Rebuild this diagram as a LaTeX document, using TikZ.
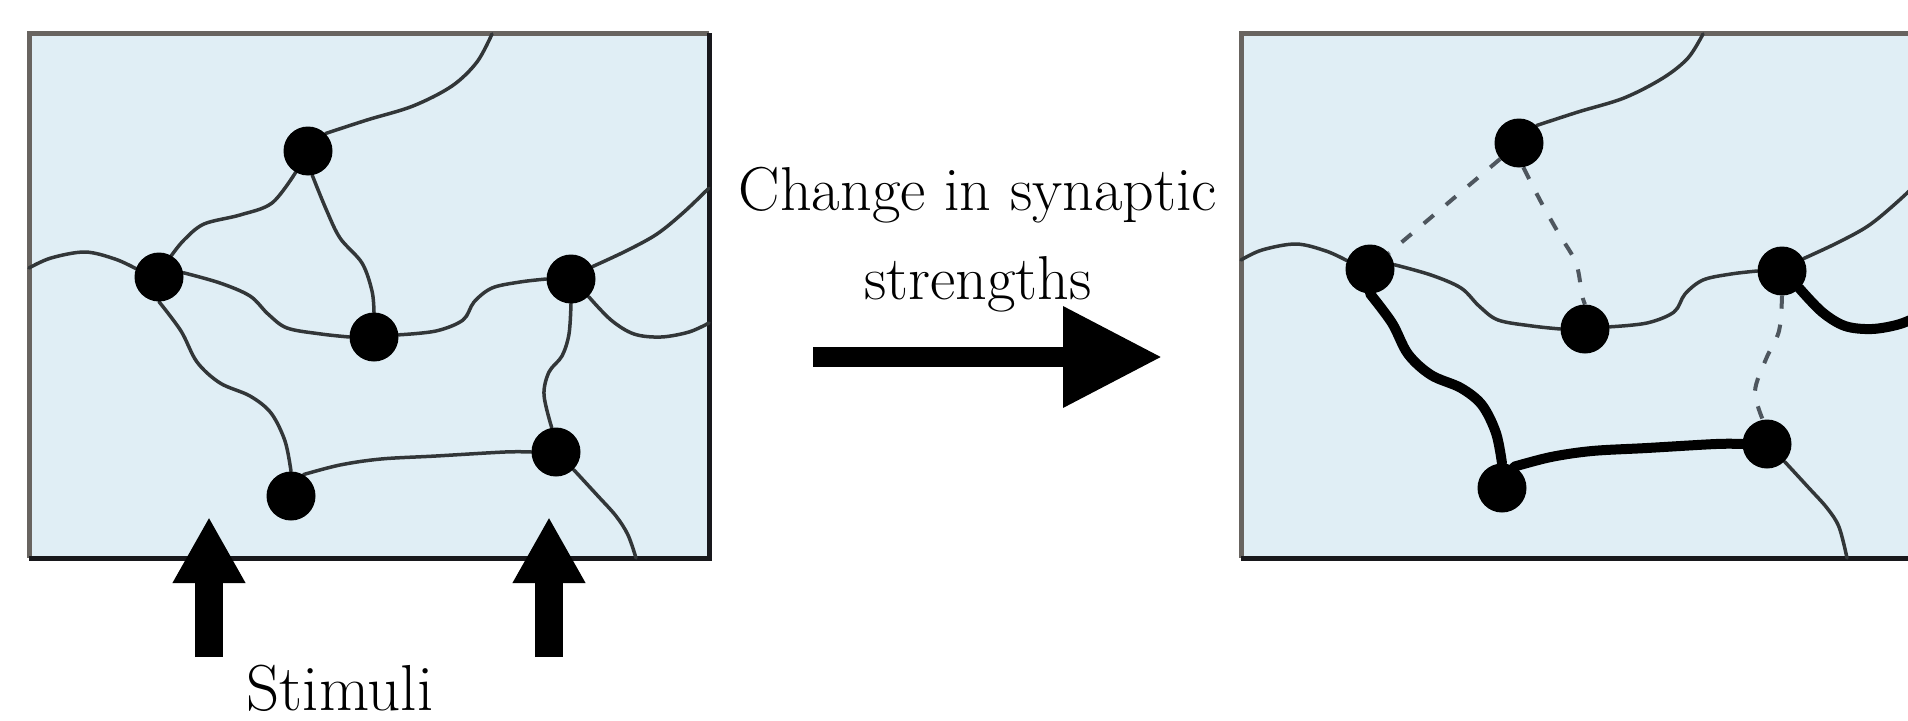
\documentclass[tikz,border=0pt]{standalone}
\usepackage{fontspec}
\usetikzlibrary{arrows.meta}
\pgfdeclarelayer{bg}
\pgfdeclarelayer{wires}
\pgfsetlayers{bg,wires,main}
\definecolor{panelfill}{RGB}{224,238,245}
\definecolor{panelrim}{RGB}{104,100,96}
\definecolor{panelrimdark}{RGB}{24,24,28}
\definecolor{axon}{RGB}{50,54,56}
\definecolor{weakaxon}{RGB}{78,86,94}
\tikzset{
  neuron/.style={circle, fill=black, inner sep=0pt, minimum size=49pt},
  wire/.style={draw=axon, line width=3.5pt, line cap=round, line join=round},
  strongwire/.style={draw=black, line width=10pt, line cap=round, line join=round},
  weakwire/.style={draw=weakaxon, line width=4pt, dash pattern=on 13pt off 16pt},
  captiontext/.style={font=\fontsize{62}{74}\selectfont, inner sep=0pt, text=black},
  stimtext/.style={font=\fontsize{65}{78}\selectfont, inner sep=0pt, text=black},
  bigarrow/.style={draw=black, line width=20pt, -{Triangle[length=99pt,width=96pt]}},
  stimarrow/.style={draw=black, line width=28pt, -{Triangle[length=66pt,width=68pt]}},
  curve/.style={smooth, tension=0.55}
}
\begin{document}
\begin{tikzpicture}[x=1pt,y=-1pt]
\useasboundingbox (0,0) rectangle (1908,720);

% ---------- panel frames ----------
\begin{pgfonlayer}{bg}
  \fill[white] (0,0) rectangle (1908,720);
  \fill[panelfill] (29,33) rectangle (709,558);
  \draw[panelrim, line width=5pt] (709,33) -- (29,33) -- (29,558);
  \draw[panelrimdark, line width=5pt] (29,558) -- (709,558) -- (709,33);
  \fill[panelfill] (1241,33) rectangle (1908,558);
  \draw[panelrim, line width=5pt] (1908,33) -- (1241,33) -- (1241,558);
  \draw[panelrimdark, line width=5pt] (1241,558) -- (1908,558);
\end{pgfonlayer}

% ---------- network before learning ----------
\node[neuron] (A) at (308,151) {};
\node[neuron] (B) at (159,277) {};
\node[neuron] (C) at (374,337) {};
\node[neuron] (D) at (571,279) {};
\node[neuron] (E) at (556,452) {};
\node[neuron] (F) at (291,496) {};
\coordinate (Atop) at (492,34);
\coordinate (Bleft) at (29,268);
\coordinate (Dup) at (709,188);
\coordinate (Dright) at (709,323);
\coordinate (Ebot) at (636,558);

\begin{pgfonlayer}{wires}
  \draw[wire] plot[curve] coordinates {(A.45) (367,120) (413,106) (452,86) (477,62) (Atop)};
  \draw[wire] plot[curve] coordinates {(A.240) (272,203) (240,215) (204,224) (184,240) (B.60)};
  \draw[wire] plot[curve] coordinates {(A.280) (326,209) (340,238) (362,263) (372,291) (C.90)};
  \draw[wire] plot[curve] coordinates {(Bleft) (51,258) (85,252) (115,259) (B.160)};
  \draw[wire] plot[curve] coordinates {(B.10) (220,283) (250,296) (268,314) (287,328) (321,334) (C.180)};
  \draw[wire] plot[curve] coordinates {(C.5) (436,331) (463,320) (474,302) (492,288) (520,282) (D.180)};
  \draw[wire] plot[curve] coordinates {(D.30) (626,251) (657,234) (684,212) (Dup)};
  \draw[wire] plot[curve] coordinates {(D.-45) (611,320) (634,334) (661,337) (689,332) (Dright)};
  \draw[wire] plot[curve] coordinates {(D.-90) (569,334) (562,356) (549,372) (544,395) (E.100)};
  \draw[wire] plot[curve] coordinates {(B.-90) (181,331) (197,362) (220,383) (250,396) (271,413) (285,441) (F.90)};
  \draw[wire] plot[curve] coordinates {(F.60) (340,465) (381,459) (436,456) (505,452) (E.180)};
  \draw[wire] plot[curve] coordinates {(E.-45) (597,495) (616,516) (628,535) (Ebot)};
\end{pgfonlayer}

% ---------- network after learning ----------
\begin{scope}[shift={(1211,-8)}]
  \node[neuron] (A2) at (308,151) {};
  \node[neuron] (B2) at (159,277) {};
  \node[neuron] (C2) at (374,337) {};
  \node[neuron] (D2) at (571,279) {};
  \node[neuron] (E2) at (556,452) {};
  \node[neuron] (F2) at (291,496) {};
  \coordinate (A2top) at (492,42);
  \coordinate (B2left) at (30,268);
  \coordinate (D2up) at (712,186);
  \coordinate (D2right) at (712,322);
  \coordinate (E2bot) at (636,566);

  \begin{pgfonlayer}{wires}
    \draw[wire] plot[curve] coordinates {(A2.45) (367,120) (413,106) (452,86) (477,66) (A2top)};
    \draw[weakwire] (A2) -- (B2);
    \draw[weakwire] plot[curve] coordinates {(A2.280) (330,210) (348,242) (365,271) (371,303) (C2.90)};
    \draw[wire] plot[curve] coordinates {(B2left) (51,258) (85,252) (115,259) (B2.160)};
    \draw[wire] plot[curve] coordinates {(B2.10) (220,283) (250,296) (268,314) (287,328) (321,334) (C2.180)};
    \draw[wire] plot[curve] coordinates {(C2.5) (436,331) (463,320) (474,302) (492,288) (520,282) (D2.180)};
    \draw[wire] plot[curve] coordinates {(D2.30) (626,251) (657,234) (684,212) (D2up)};
    \draw[strongwire] plot[curve] coordinates {(D2.-45) (611,320) (634,334) (661,337) (689,332) (D2right)};
    \draw[weakwire] plot[curve] coordinates {(D2.-90) (568,339) (555,367) (544,399) (E2.100)};
    \draw[strongwire] plot[curve] coordinates {(B2.-90) (181,331) (197,362) (220,383) (250,396) (271,413) (285,441) (F2.90)};
    \draw[strongwire] plot[curve] coordinates {(F2.60) (340,465) (381,459) (436,456) (505,452) (E2.180)};
    \draw[wire] plot[curve] coordinates {(E2.-45) (597,495) (616,516) (628,535) (E2bot)};
  \end{pgfonlayer}
\end{scope}

% ---------- transition arrow and caption ----------
\coordinate (changefrom) at (813,357);
\coordinate (changeto) at (1162,357);
\draw[bigarrow] (changefrom) -- (changeto);
\node[captiontext, anchor=base] (change1) at (978,210) {Change in synaptic};
\node[captiontext, anchor=base] (change2) at (978,299) {strengths};

% ---------- stimuli ----------
\coordinate (s1from) at (209,657);
\coordinate (s1to) at (209,517);
\coordinate (s2from) at (549,657);
\coordinate (s2to) at (549,517);
\draw[stimarrow] (s1from) -- (s1to);
\draw[stimarrow] (s2from) -- (s2to);
\node[stimtext, anchor=base] (stim) at (340,710) {Stimuli};
\end{tikzpicture}
\end{document}
